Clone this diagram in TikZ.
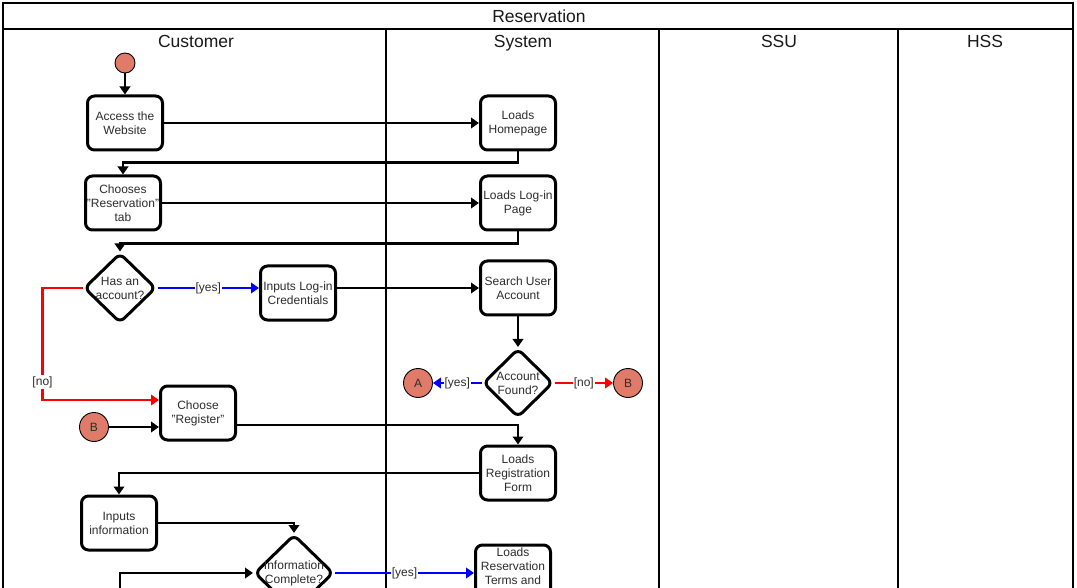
\documentclass[tikz,border=0pt]{standalone}
\usepackage{fontspec}
\setmainfont{Liberation Sans}
\usetikzlibrary{positioning,calc,arrows.meta,shapes.geometric}
\definecolor{salmon}{RGB}{224,123,106}
\definecolor{ink}{RGB}{45,45,45}
\tikzset{
    every node/.style={font=\fontsize{12}{14}\selectfont, text=ink},
    act/.style={draw=black, line width=3pt, rounded corners=7pt, fill=white, align=center, inner sep=1pt, minimum width=75pt, minimum height=54pt},
    decide/.style={draw=black, line width=3pt, diamond, rounded corners=6pt, fill=white, align=center, inner sep=-10pt},
    conn/.style={circle, draw=black, line width=0.9pt, fill=salmon, minimum size=29pt, inner sep=0pt},
    arrow/.style={-{Triangle[length=8pt,width=10.5pt]}, line width=2.2pt},
    lanetitle/.style={font=\fontsize{17.5}{20}\selectfont, text=black!90, anchor=base},
    guard/.style={fill=white, inner sep=1pt},
    pool/.style={line width=2pt},
}

\begin{document}
\begin{tikzpicture}[x=1pt, y=-1pt]
  \useasboundingbox (0,0) rectangle (1077,588);
  \clip (0,0) rectangle (1077,588);
  % pool and lanes
  \draw[pool] (3,3) rectangle (1073,660);
  \draw[pool] (3,29) -- (1073,29);
  \draw[pool] (386,29) -- (386,660);
  \draw[pool] (659,29) -- (659,660);
  \draw[pool] (898,29) -- (898,660);
  \node[lanetitle] (pooltitle) at (539,22.5) {Reservation};
  \node[lanetitle] (customer) at (196,48) {Customer};
  \node[lanetitle] (system) at (523,48) {System};
  \node[lanetitle] (ssu) at (779,48) {SSU};
  \node[lanetitle] (hss) at (985,48) {HSS};

  \node[conn, minimum size=20pt] (start) at (125,63) {};
  \node[act] (access) at (125,123) {Access the\\Website};
  \node[act] (homepage) at (518,123) {Loads\\Homepage};
  \node[act] (choose) at (123,203) {Chooses\\"Reservation"\\tab};
  \node[act] (loginpage) at (518,203) {Loads Log-in\\Page};
  \node[decide, minimum width=72pt, minimum height=70pt] (hasacc) at (120,288) {Has an\\account?};
  \node[act] (inputlogin) at (298,293) {Inputs Log-in\\Credentials};
  \node[act] (search) at (518,288) {Search User\\Account};
  \node[decide, minimum width=70pt, minimum height=69pt] (found) at (518,383) {Account\\Found?};
  \node[conn] (conA) at (418,383) {A};
  \node[conn] (conB) at (628,383) {B};
  \node[act] (register) at (198,413) {Choose\\"Register"};
  \node[conn] (conBtwo) at (94,427) {B};
  \node[act] (regform) at (518,473) {Loads\\Registration\\Form};
  \node[act] (inputinfo) at (119,523) {Inputs\\information};
  \node[decide, minimum width=79pt, minimum height=77pt] (infocomplete) at (294,573) {Information\\Complete?};
  \node[act, minimum height=56pt] (terms) at (513,573) {Loads\\Reservation\\Terms and\\~};
  \coordinate (regin) at ($(register.west)+(0,-13)$);
  \coordinate (regout) at ($(register.east)+(0,12)$);
  \coordinate (fromdown) at (120,660);

    \draw[arrow] (start) -- (access);
    \draw[arrow] (access) -- (homepage);
    \draw[arrow] (homepage.south) -- ++(0,11) -| (choose.north);
    \draw[arrow] (choose) -- (loginpage);
    \draw[arrow] (loginpage.south) -- ++(0,12) -| (hasacc.north);
    \draw[arrow, blue] (hasacc.east) -- node[guard] {[yes]} (hasacc.east -| inputlogin.west);
    \draw[arrow] (inputlogin.east |- search.west) -- (search.west);
    \draw[arrow] (search) -- (found);
    \draw[arrow, blue] (found.west) -- node[guard] {[yes]} (conA);
    \draw[arrow, red] (found.east) -- node[guard] {[no]} (conB);
    \draw[arrow, red] (hasacc.west) -- ++(-40,0) |- node[guard, pos=0.42] {[no]} (regin);
    \draw[arrow] (conBtwo) -- (conBtwo -| register.west);
    \draw[arrow] (regout) -| (regform.north);
    \draw[arrow] (regform.west) -| (inputinfo.north);
    \draw[arrow] (inputinfo.east) -| (infocomplete.north);
    \draw[arrow] (fromdown) |- (infocomplete.west);
    \draw[arrow, blue] (infocomplete.east) -- node[guard] {[yes]} (terms.west);
\end{tikzpicture}
\end{document}
